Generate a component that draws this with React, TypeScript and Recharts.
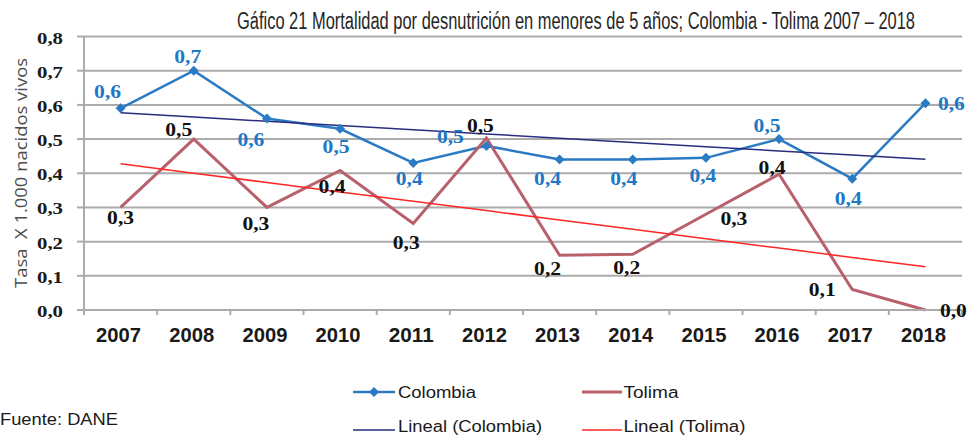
import React from 'react';
import { ComposedChart, Line, XAxis, YAxis, CartesianGrid, LabelList } from 'recharts';

const years = ['2007', '2008', '2009', '2010', '2011', '2012', '2013', '2014', '2015', '2016', '2017', '2018'];
const colombia = [0.59, 0.70, 0.56, 0.53, 0.43, 0.48, 0.44, 0.44, 0.445, 0.50, 0.384, 0.605];
const tolima = [0.30, 0.50, 0.30, 0.408, 0.253, 0.503, 0.16, 0.163, 0.28, 0.397, 0.06, 0.0];
const yTicks = [0, 0.1, 0.2, 0.3, 0.4, 0.5, 0.6, 0.7, 0.8];

const titleText = 'Gáfico 21 Mortalidad por desnutrición en menores de 5 años; Colombia - Tolima 2007 – 2018';
const yAxisTitle = 'Tasa  X 1.000 nacidos vivos';
const sourceText = 'Fuente: DANE';
const legendNames = ['Colombia', 'Tolima', 'Lineal (Colombia)', 'Lineal (Tolima)'];

// label placement offsets (style only)
const colombiaLabelOffsets = [[-13, -17], [-6, -14], [-16, 21], [-4, 18], [-4, 16], [-36, -9], [-12, 19], [-9, 19], [-3, 18], [-12, -14], [-4, 20], [26, 0]];
const tolimaLabelOffsets = [[0, 10], [-15, -10], [-11, 16], [-8, 16], [-7, 19], [-6, -13], [-12, 13], [-6, 13], [28, 4], [-7, -7], [-30, 0], [28, 0]];

const BLUE = '#2B7BC4';
const BLUE_LABEL = '#1E78C6';
const ROSE = '#B8616D';
const NAVY = '#2A2D7E';
const RED = '#FF2626';
const GRID = '#ABABAB';
const HALF_BAND = 36.58;

function linearTrend(values: number[]): number[] {
  const n = values.length;
  const mx = (n - 1) / 2;
  const my = values.reduce((a, b) => a + b, 0) / n;
  let sxy = 0;
  let sxx = 0;
  values.forEach((v, i) => {
    sxy += (i - mx) * (v - my);
    sxx += (i - mx) * (i - mx);
  });
  const slope = sxy / sxx;
  return values.map((_, i) => my + slope * (i - mx));
}

const colTrend = linearTrend(colombia);
const tolTrend = linearTrend(tolima);

const data = years.map((year, i) => ({
  year,
  colombia: colombia[i],
  tolima: tolima[i],
  colTrend: colTrend[i],
  tolTrend: tolTrend[i],
}));

const fmt = (v: number) => v.toFixed(1).replace('.', ',');

const DiamondDot = (props: any) => {
  const { cx, cy } = props;
  if (cx == null || cy == null) return null;
  const s = 5;
  return <polygon points={`${cx},${cy - s} ${cx + s},${cy} ${cx},${cy + s} ${cx - s},${cy}`} fill={BLUE} />;
};

const makeLabel = (offsets: number[][], color: string) => (props: any) => {
  const x = props.x ?? props.viewBox?.x;
  const y = props.y ?? props.viewBox?.y;
  const idx = props.index;
  if (x == null || y == null || idx == null) return null;
  const [dx, dy] = offsets[idx] || [0, -12];
  return (
    <text
      x={x + dx}
      y={y + dy + 6.5}
      textAnchor="middle"
      fontFamily="'Liberation Serif', 'Times New Roman', serif"
      fontWeight={700}
      fontSize={18.5}
      fill={color}
      textLength={27}
      lengthAdjust="spacingAndGlyphs"
    >
      {fmt(Number(props.value))}
    </text>
  );
};

const XTick = (props: any) => {
  const { x, y, payload } = props;
  const half = payload?.offset || HALF_BAND;
  const isLast = payload?.index === years.length - 1;
  return (
    <g>
      <line x1={x - half} y1={y} x2={x - half} y2={y + 5} stroke={GRID} strokeWidth={2} />
      {isLast && <line x1={x + half} y1={y} x2={x + half} y2={y + 5} stroke={GRID} strokeWidth={2} />}
      <text
        x={x - 2}
        y={y + 32}
        textAnchor="middle"
        fontFamily="'Liberation Sans', Arial, sans-serif"
        fontWeight={700}
        fontSize={19.5}
        fill="#1a1a1a"
        textLength={45}
        lengthAdjust="spacingAndGlyphs"
      >
        {payload.value}
      </text>
    </g>
  );
};

const YTick = (props: any) => {
  const { x, y, payload } = props;
  return (
    <text
      x={x - 12}
      y={y + 7}
      textAnchor="end"
      fontFamily="'Liberation Serif', 'Times New Roman', serif"
      fontWeight={700}
      fontSize={17}
      fill="#1a1a1a"
      textLength={26}
      lengthAdjust="spacingAndGlyphs"
    >
      {fmt(Number(payload.value))}
    </text>
  );
};

const legendFont = "'Liberation Sans', Arial, sans-serif";

export default function App() {
  return (
    <div style={{ position: 'fixed', left: 0, top: 0, width: 969, height: 436, background: '#fff' }}>
      <div style={{ position: 'absolute', left: 0, top: 0 }}>
        <ComposedChart
          width={969}
          height={436}
          data={data}
          margin={{ top: 36.5, right: 7, left: 24, bottom: 96 }}
        >
          <CartesianGrid vertical={false} stroke={GRID} strokeWidth={2} />
          <XAxis
            dataKey="year"
            scale="band"
            height={30}
            tickLine={false}
            tickSize={0}
            tickMargin={0}
            axisLine={{ stroke: GRID, strokeWidth: 2 }}
            tick={<XTick />}
            interval={0}
          />
          <YAxis
            width={60}
            domain={[0, 0.8]}
            ticks={yTicks}
            type="number"
            tickSize={7}
            tickMargin={2}
            tickLine={{ stroke: GRID, strokeWidth: 2 }}
            axisLine={{ stroke: GRID, strokeWidth: 2 }}
            tick={<YTick />}
            interval={0}
          />
          <Line dataKey="colombia" stroke={BLUE} strokeWidth={2.5} dot={<DiamondDot />} activeDot={false} isAnimationActive={false} />
          <Line dataKey="tolima" stroke={ROSE} strokeWidth={3} dot={false} activeDot={false} isAnimationActive={false} />
          <Line dataKey="colTrend" stroke={NAVY} strokeWidth={1.5} dot={false} activeDot={false} isAnimationActive={false} />
          <Line dataKey="tolTrend" stroke={RED} strokeWidth={1.5} dot={false} activeDot={false} isAnimationActive={false} />
          <Line dataKey="colombia" stroke="none" dot={false} activeDot={false} isAnimationActive={false} legendType="none">
            <LabelList dataKey="colombia" content={makeLabel(colombiaLabelOffsets, BLUE_LABEL)} />
          </Line>
          <Line dataKey="tolima" stroke="none" dot={false} activeDot={false} isAnimationActive={false} legendType="none">
            <LabelList dataKey="tolima" content={makeLabel(tolimaLabelOffsets, '#111111')} />
          </Line>
        </ComposedChart>
      </div>
      <svg width={969} height={436} style={{ position: 'absolute', left: 0, top: 0, pointerEvents: 'none' }}>
        <text
          transform="translate(237,29) scale(1,1.33)"
          x={0}
          y={0}
          fontFamily={legendFont}
          fontSize={18}
          fill="#262626"
          textLength={678}
          lengthAdjust="spacingAndGlyphs"
        >
          {titleText}
        </text>
        <text
          transform="translate(27,173) rotate(-90)"
          textAnchor="middle"
          fontFamily="'Open Sans', 'Liberation Sans', sans-serif"
          fontSize={16}
          fill="#4d4d4d"
          textLength={230}
          lengthAdjust="spacingAndGlyphs"
          style={{ whiteSpace: 'pre' }}
        >
          {yAxisTitle}
        </text>
        <line x1={353} y1={392} x2={395} y2={392} stroke={BLUE} strokeWidth={2.5} />
        <polygon points="374,387 379,392 374,397 369,392" fill={BLUE} />
        <text x={398} y={397.5} fontFamily={legendFont} fontSize={16} fill="#1a1a1a" textLength={78} lengthAdjust="spacingAndGlyphs">
          {legendNames[0]}
        </text>
        <line x1={582} y1={392} x2={622} y2={392} stroke={ROSE} strokeWidth={3} />
        <text x={623.5} y={397.5} fontFamily={legendFont} fontSize={16} fill="#1a1a1a" textLength={55} lengthAdjust="spacingAndGlyphs">
          {legendNames[1]}
        </text>
        <line x1={353} y1={430} x2={395} y2={430} stroke={NAVY} strokeWidth={1.5} />
        <text x={398} y={432} fontFamily={legendFont} fontSize={16} fill="#1a1a1a" textLength={144} lengthAdjust="spacingAndGlyphs">
          {legendNames[2]}
        </text>
        <line x1={582} y1={430} x2={622} y2={430} stroke={RED} strokeWidth={1.5} />
        <text x={623.5} y={432} fontFamily={legendFont} fontSize={16} fill="#1a1a1a" textLength={122} lengthAdjust="spacingAndGlyphs">
          {legendNames[3]}
        </text>
        <text x={0} y={425} fontFamily={legendFont} fontSize={16} fill="#1a1a1a" textLength={118} lengthAdjust="spacingAndGlyphs">
          {sourceText}
        </text>
      </svg>
    </div>
  );
}
